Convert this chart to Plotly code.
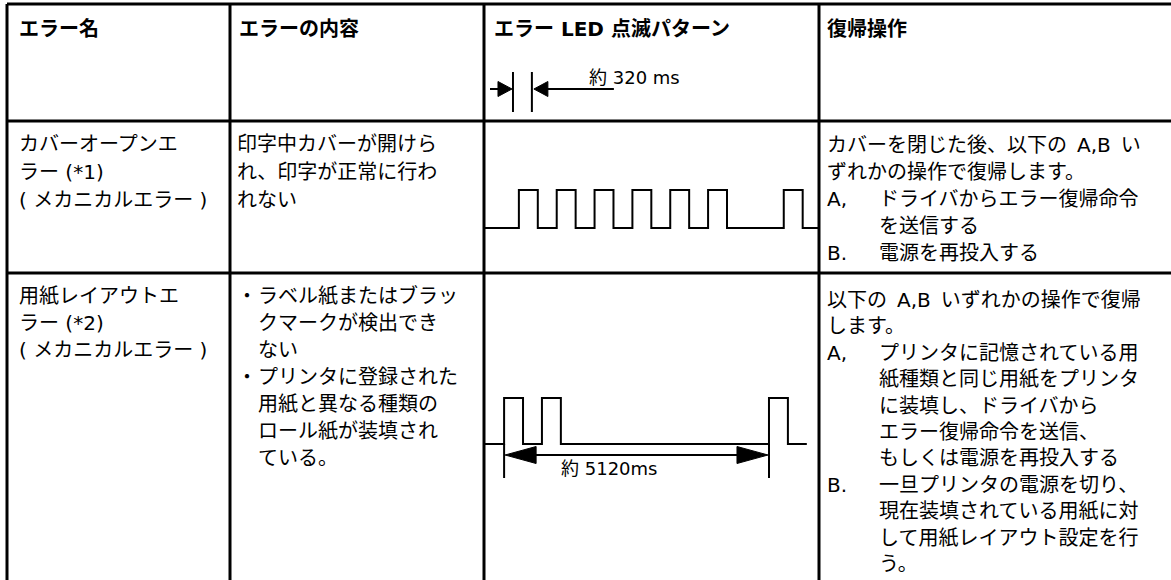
import plotly.graph_objects as go

W, H = 1171, 580

# ---------------- data ----------------
headers = ["エラー名", "エラーの内容", "エラー LED 点滅パターン", "復帰操作"]

row1_name = ["カバーオープンエ", "ラー (*1)", "( メカニカルエラー )"]
row1_desc = [("", "印字中カバーが開けら"), ("", "れ、印字が正常に行わ"), ("", "れない")]
row1_fix = [(None, "カバーを閉じた後、以下の\u2002A,B\u2002い"),
            (None, "ずれかの操作で復帰します。"),
            ("A,", "ドライバからエラー復帰命令"),
            ("", "を送信する"),
            ("B.", "電源を再投入する")]

row2_name = ["用紙レイアウトエ", "ラー (*2)", "( メカニカルエラー )"]
row2_desc = [("・", "ラベル紙またはブラッ"), ("", "クマークが検出でき"), ("", "ない"),
             ("・", "プリンタに登録された"), ("", "用紙と異なる種類の"),
             ("", "ロール紙が装填され"), ("", "ている。")]
row2_fix = [(None, "以下の\u2002A,B\u2002いずれかの操作で復帰"),
            (None, "します。"),
            ("A,", "プリンタに記憶されている用"),
            ("", "紙種類と同じ用紙をプリンタ"),
            ("", "に装填し、ドライバから"),
            ("", "エラー復帰命令を送信、"),
            ("", "もしくは電源を再投入する"),
            ("B.", "一旦プリンタの電源を切り、"),
            ("", "現在装填されている用紙に対"),
            ("", "して用紙レイアウト設定を行"),
            ("", "う。")]

SLOT_MS = 320                       # one LED on/off slot
row1_start_ms = 590                 # LED pattern start inside the cell
row1_pattern = [1, 0, 1, 0, 1, 0, 1, 0, 1, 0, 1, 0, 0, 0, 1, 0]
row2_start_ms = 340
row2_pattern = [1, 0, 1, 0, 0, 0, 0, 0, 0, 0, 0, 0, 0, 0, 1, 0]
header_dim_start_ms = 490
header_dim_ms = 320
pulse_label = "約 320 ms"
cycle_label = "約 5120ms"
cycle_from_slot, cycle_to_slot = 0, 14   # dimension arrow from 1st to 3rd rise

# ---------------- layout constants ----------------
COL_X = [7, 230, 484, 819]
ROW_Y = [4, 121, 273]
MS_PER_PX = SLOT_MS / 18.92
X2_RANGE = [0, (COL_X[3] - COL_X[2]) * MS_PER_PX]

FONT = "DejaVu Sans, Noto Sans CJK JP"
LATIN = "DejaVu Sans, Noto Sans CJK JP"
FS = 20


def yaxis_map(px_top, px_bot, px_level0, px_unit):
    dom = [1 - px_bot / H, 1 - px_top / H]
    rng = [(px_level0 - px_bot) / px_unit, (px_level0 - px_top) / px_unit]
    return dom, rng


y2_dom, y2_rng = yaxis_map(ROW_Y[1], ROW_Y[2], 228, 38)
y3_dom, y3_rng = yaxis_map(ROW_Y[2], H, 444, 46)
PX3 = 46  # px per level unit in row 2

fig = go.Figure()


def step_trace(start, pattern, yaxis):
    xs = [X2_RANGE[0]] + [start + i * SLOT_MS for i in range(len(pattern))] + [start + len(pattern) * SLOT_MS]
    ys = [0] + pattern + [pattern[-1]]
    fig.add_trace(go.Scatter(x=xs, y=ys, mode="lines", line=dict(color="black", width=2, shape="hv"),
                             xaxis="x2", yaxis=yaxis, hoverinfo="skip", showlegend=False))


step_trace(row1_start_ms, row1_pattern, "y2")
step_trace(row2_start_ms, row2_pattern, "y3")


def line_trace(xs, ys, yaxis, width=2):
    fig.add_trace(go.Scatter(x=xs, y=ys, mode="lines", line=dict(color="black", width=width),
                             xaxis="x2", yaxis=yaxis, hoverinfo="skip", showlegend=False))


def tri_trace(xs, ys, yaxis):
    fig.add_trace(go.Scatter(x=xs + [xs[0]], y=ys + [ys[0]], mode="lines", fill="toself",
                             fillcolor="black", line=dict(color="black", width=1),
                             xaxis="x2", yaxis=yaxis, hoverinfo="skip", showlegend=False))


# ---- header dimension (320 ms) in x2 / main-y (px) ----
d1 = header_dim_start_ms
d2 = header_dim_start_ms + header_dim_ms
yl = 89
line_trace([d1, d1], [72, 112], "y")
line_trace([d2, d2], [72, 112], "y")
tipL = d1 - 1 * MS_PER_PX
line_trace([(490 - COL_X[2]) * MS_PER_PX, tipL - 10 * MS_PER_PX], [yl, yl], "y")
tri_trace([tipL, tipL - 14 * MS_PER_PX, tipL - 14 * MS_PER_PX], [yl, yl - 7.5, yl + 7.5], "y")
tipR = d2 + 2 * MS_PER_PX
tri_trace([tipR, tipR + 14 * MS_PER_PX, tipR + 14 * MS_PER_PX], [yl, yl - 7.5, yl + 7.5], "y")
line_trace([tipR + 10 * MS_PER_PX, tipR + 80 * MS_PER_PX], [yl, yl], "y")

# ---- row 2 dimension (5120 ms) ----
c1 = row2_start_ms + cycle_from_slot * SLOT_MS
c2 = row2_start_ms + cycle_to_slot * SLOT_MS
ext_bot = -34 / PX3
ya = -11 / PX3
hh = 8.5 / PX3
hl = 32 * MS_PER_PX
line_trace([c1, c1], [0, ext_bot], "y3")
line_trace([c2, c2], [0, ext_bot], "y3")
line_trace([c1 + hl * 0.8, c2 - hl * 0.8], [ya, ya], "y3")
tri_trace([c1 + 1 * MS_PER_PX, c1 + hl, c1 + hl], [ya, ya + hh, ya - hh], "y3")
tri_trace([c2 - 1 * MS_PER_PX, c2 - hl, c2 - hl], [ya, ya + hh, ya - hh], "y3")

# ---------------- table lines ----------------
shapes = []
LW = 3
for y in ROW_Y:
    shapes.append(dict(type="line", xref="x", yref="y", x0=COL_X[0], x1=W + 5, y0=y, y1=y,
                       line=dict(color="black", width=LW)))
for x in COL_X:
    shapes.append(dict(type="line", xref="x", yref="y", x0=x, x1=x, y0=ROW_Y[0], y1=H + 5,
                       line=dict(color="black", width=LW)))

# ---------------- texts ----------------
ann = []


def txt(x, y, s, size=FS, family=FONT, bold=False):
    ann.append(dict(x=x, y=y, xref="x", yref="y", text=("<b>%s</b>" % s) if bold else s,
                    showarrow=False, xanchor="left", yanchor="middle", align="left",
                    borderpad=0, borderwidth=0,
                    font=dict(family=family, size=size, color="black")))


hx = [19, 239, 494, 827]
for x, h in zip(hx, headers):
    txt(x, 29, h, bold=True)

txt(589, 77, pulse_label, size=18, family=LATIN)
txt(561, 468, cycle_label, size=18, family=LATIN)


def block(lines, x, y0, dy):
    for i, s in enumerate(lines):
        txt(x, y0 + i * dy, s)


def cell(items, x, indent, y0, dy):
    for i, (m, s) in enumerate(items):
        y = y0 + i * dy
        if m is None:
            txt(x, y, s)
        else:
            if m:
                txt(x, y, m)
            txt(x + indent, y, s)


block(row1_name, 19, 144, 28)
cell(row1_desc, 237, 0, 144, 28)
cell(row1_fix, 827, 52, 145, 27)
block(row2_name, 19, 296, 27)
cell(row2_desc, 237, 21, 296, 27)
cell(row2_fix, 827, 52, 300, 26.4)

fig.update_layout(
    width=W, height=H, autosize=False,
    margin=dict(l=0, r=0, t=0, b=0),
    paper_bgcolor="white", plot_bgcolor="white",
    shapes=shapes, annotations=ann, showlegend=False,
    xaxis=dict(range=[0, W], domain=[0, 1], visible=False, fixedrange=True),
    yaxis=dict(range=[H, 0], domain=[0, 1], visible=False, fixedrange=True),
    xaxis2=dict(range=X2_RANGE, domain=[COL_X[2] / W, COL_X[3] / W], anchor="y2",
                visible=False, fixedrange=True),
    yaxis2=dict(range=y2_rng, domain=y2_dom, anchor="x2", visible=False, fixedrange=True),
    yaxis3=dict(range=y3_rng, domain=y3_dom, anchor="x2", visible=False, fixedrange=True),
)

fig.write_html("out.html", config={"displayModeBar": False},
               post_script="document.body.style.margin='0';document.body.style.overflow='hidden';")
